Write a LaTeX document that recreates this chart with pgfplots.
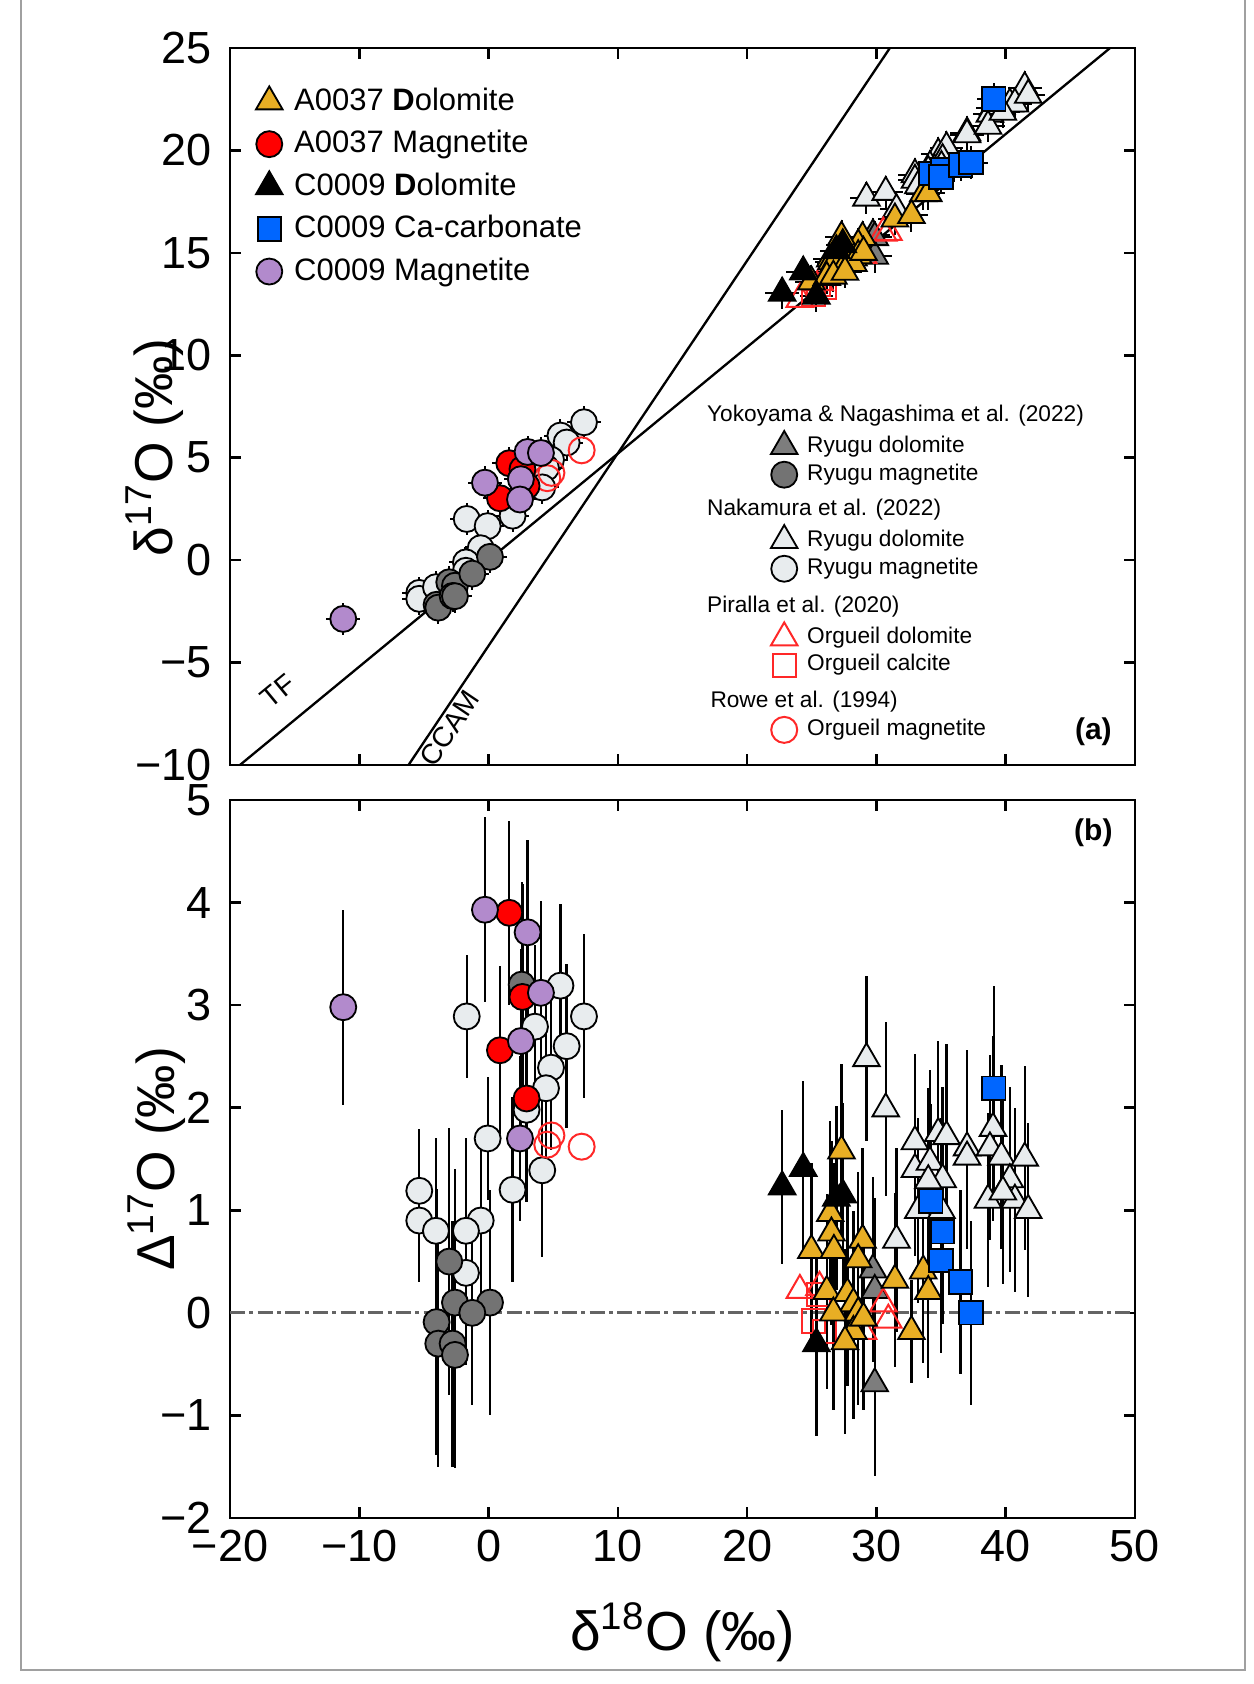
\documentclass[border=0pt]{standalone}
\usepackage{fontspec}
\setmainfont{Liberation Sans}
\usepackage{pgfplots}
\usepackage{pgfplotstable}
\pgfplotsset{compat=1.18}

\definecolor{cgold}{RGB}{232,174,36}
\definecolor{cred}{RGB}{255,0,0}
\definecolor{cblue}{RGB}{0,102,255}
\definecolor{cpurple}{RGB}{178,138,204}
\definecolor{cdgray}{RGB}{115,115,115}
\definecolor{cmgray}{RGB}{125,125,125}
\definecolor{clgray}{RGB}{232,236,238}
\definecolor{cored}{RGB}{255,40,40}
\definecolor{cdash}{RGB}{100,100,100}
\definecolor{cframe}{RGB}{160,160,160}

% A0037 dolomite
\pgfplotstableread{
d18 d17 D17 e
24.97 13.59 0.61 0.85
26.43 14.71 0.97 0.90
26.52 14.57 0.78 0.90
26.71 14.50 0.61 0.85
28.93 15.75 0.71 0.90
28.59 15.39 0.52 0.85
31.43 16.66 0.32 0.85
33.62 17.89 0.41 0.90
34.01 17.90 0.21 0.85
26.16 13.81 0.21 0.95
27.75 14.62 0.19 0.90
28.22 14.76 0.09 0.90
26.67 13.87 0.00 0.95
28.59 14.87 0.00 0.90
28.22 14.49 -0.18 0.85
27.57 14.06 -0.28 0.90
32.71 16.83 -0.18 0.50
27.30 15.78 1.58 0.85
29.00 15.03 -0.05 0.90
}\goldtab
% A0037 magnetite
\pgfplotstableread{
d18 d17 D17 e
1.60 4.73 3.90 0.90
2.62 4.44 3.08 1.10
0.88 3.02 2.56 0.82
2.94 3.62 2.09 1.00
}\redtab
% C0009 dolomite
\pgfplotstableread{
d18 d17 D17 e
22.71 13.04 1.23 0.75
24.34 14.07 1.41 0.85
26.90 15.11 1.12 0.90
27.40 15.40 1.15 0.90
25.36 12.89 -0.30 0.90
}\blacktab
% C0009 Ca-carbonate
\pgfplotstableread{
d18 d17 D17 e
39.08 22.51 2.19 1.00
34.21 18.88 1.09 0.95
35.12 19.05 0.79 0.90
34.99 18.70 0.51 0.90
36.51 19.29 0.30 0.90
37.31 19.40 0.00 0.90
}\bluetab
% C0009 magnetite
\pgfplotstableread{
d18 d17 D17 e
-11.24 -2.87 2.98 0.95
-0.28 3.78 3.93 0.90
3.02 5.28 3.71 0.90
4.05 5.23 3.12 0.90
2.50 3.95 2.65 0.90
2.43 2.96 1.70 0.80
}\purtab
% Yokoyama dolomite
\pgfplotstableread{
d18 d17 D17 e
29.73 15.88 0.42 0.90
29.87 15.75 0.22 0.90
29.87 14.84 -0.69 0.90
}\ydoltab
% Yokoyama magnetite
\pgfplotstableread{
d18 d17 D17 e
2.56 4.53 3.20 1.00
-3.04 -1.08 0.50 1.30
-2.60 -1.25 0.10 1.30
0.11 0.16 0.10 1.10
-1.26 -0.66 0.00 0.90
-4.02 -2.18 -0.09 1.30
-3.89 -2.32 -0.30 1.20
-2.78 -1.75 -0.30 1.20
-2.60 -1.76 -0.41 1.10
}\ymagtab
% Nakamura dolomite
\pgfplotstableread{
d18 d17 D17 e
29.23 17.68 2.48 0.80
30.72 17.96 1.99 0.85
32.98 18.82 1.67 0.85
34.78 19.84 1.75 0.90
35.42 20.14 1.72 0.90
32.98 18.55 1.40 0.85
34.14 19.22 1.47 0.90
35.12 19.56 1.30 0.90
34.01 18.98 1.29 0.90
33.24 18.28 1.00 0.90
35.03 19.22 1.00 0.90
37.01 20.86 1.61 0.95
37.01 20.77 1.52 0.90
39.02 22.09 1.80 0.90
38.78 21.78 1.61 0.90
39.67 22.15 1.52 0.90
41.47 23.07 1.51 0.90
40.32 22.27 1.30 0.90
38.63 21.19 1.10 0.85
40.71 22.27 1.10 0.90
41.74 22.70 1.00 0.85
39.78 21.87 1.18 0.90
31.55 17.12 0.71 0.90
}\ndoltab
% Nakamura magnetite
\pgfplotstableread{
d18 d17 D17 e
5.56 6.08 3.19 0.80
-1.69 2.01 2.89 0.60
7.38 6.73 2.89 0.80
3.59 4.66 2.79 0.80
6.04 5.74 2.60 0.80
4.83 4.90 2.39 0.80
4.44 4.50 2.19 0.90
2.94 3.51 1.98 0.90
-0.07 1.66 1.70 0.60
4.15 3.55 1.39 0.85
1.86 2.17 1.20 0.90
-0.61 0.58 0.90 0.90
-1.75 -0.11 0.80 0.90
-5.36 -1.60 1.19 0.60
-5.36 -1.89 0.90 0.60
-4.07 -1.32 0.80 0.90
-1.75 -0.52 0.39 0.90
}\nmagtab
% Orgueil dolomite (Piralla)
\pgfplotstableread{
d18 d17 D17
24.08 12.74 0.22
25.60 13.56 0.25
30.53 15.97 0.09
30.92 16.01 -0.07
28.97 14.88 -0.18
}\odoltab
% Orgueil calcite (Piralla)
\pgfplotstableread{
d18 d17 D17
25.11 12.98 -0.08
26.00 13.34 -0.18
25.50 13.44 0.18
}\ocaltab
% Orgueil magnetite (Rowe)
\pgfplotstableread{
d18 d17 D17
4.86 4.26 1.73
4.54 4.00 1.64
7.20 5.36 1.62
}\omagtab

\pgfplotsset{
  ptri/.style={only marks, mark=triangle*, mark size=4.6pt, mark options={draw=black, line width=0.55pt, fill=#1}},
  pcirc/.style={only marks, mark=*, mark size=3.9pt, mark options={draw=black, line width=0.55pt, fill=#1}},
  psq/.style={only marks, mark=square*, mark size=3.5pt, mark options={draw=black, line width=0.55pt, fill=#1}},
  otri/.style={only marks, mark=triangle, mark size=4.6pt, mark options={draw=cored, line width=0.6pt}},
  osq/.style={only marks, mark=square, mark size=3.5pt, mark options={draw=cored, line width=0.6pt}},
  ocirc/.style={only marks, mark=o, mark size=3.9pt, mark options={draw=cored, line width=0.6pt}},
  errA/.style={error bars/x dir=both, error bars/x fixed=1.3, error bars/y dir=both, error bars/y fixed=0.8, error bars/error mark=none, error bars/error bar style={line width=0.6pt, black}},
  errB/.style={error bars/y dir=both, error bars/y explicit, error bars/error mark=none, error bars/error bar style={line width=0.7pt, black}},
  myaxis/.style={scale only axis, width=271.5pt, anchor=south west, xmin=-20, xmax=50,
    axis line style={line width=0.8pt}, tick style={line width=0.8pt, black},
    major tick length=3.2pt, tick align=inside, tick pos=both,
    ticklabel style={font=\fontsize{13.5}{14}\selectfont},
    yticklabel style={xshift=-2pt},
    xtick={-20,-10,...,50},
    legend image code/.code={\draw[##1] plot coordinates {(0pt,0pt)};}},
}

\begin{document}
\begin{tikzpicture}
\useasboundingbox (0,0) rectangle (376.2pt,505.2pt);
\draw[cframe, line width=0.5pt] (6.3pt,505.2pt) -- (6.3pt,4.2pt) -- (373.5pt,4.2pt) -- (373.5pt,505.2pt);

% ---------------- panel (a) ----------------
\begin{axis}[myaxis, at={(69pt,275.7pt)}, height=215.1pt, ymin=-10, ymax=25,
  ytick={-10,-5,...,25}, yticklabels={−10,−5,0,5,10,15,20,25}, xticklabels={,,,,,,,},
  ylabel={δ\textsuperscript{17}O (‰)},
  ylabel style={font=\fontsize{16}{19}\selectfont, at={(axis description cs:-0.083,0.443)}, anchor=center},
  legend style={at={(0.028,0.9475)}, anchor=north west, draw=none, fill=none, inner sep=0pt,
    nodes={inner sep=0.5pt},
    font=\fontsize{9.3}{11}\selectfont, row sep=3.5pt, column sep=3pt},
  legend cell align=left]
\addplot[black, line width=0.7pt, forget plot] coordinates {(-19.231,-10) (48.077,25)};
\addplot[black, line width=0.7pt, forget plot] coordinates {(-6.191,-10) (31.043,25)};
\node[rotate=39.5, anchor=center, font=\fontsize{8.5}{10}\selectfont] at (axis cs:-16.3,-6.4) {TF};
\node[rotate=56, anchor=center, font=\fontsize{8.5}{10}\selectfont] at (axis cs:-3.0,-8.2) {CCAM};
\node[font=\fontsize{9}{10}\selectfont\bfseries] at (rel axis cs:0.954,0.046) {(a)};
% literature
\addplot[pcirc=clgray, errA, forget plot] table[x=d18, y=d17] {\nmagtab};
\addplot[ptri=clgray, errA, forget plot] table[x=d18, y=d17] {\ndoltab};
\addplot[pcirc=cdgray, errA, forget plot] table[x=d18, y=d17] {\ymagtab};
\addplot[ptri=cmgray, errA, forget plot] table[x=d18, y=d17] {\ydoltab};
\addplot[otri, forget plot] table[x=d18, y=d17] {\odoltab};
\addplot[osq, forget plot] table[x=d18, y=d17] {\ocaltab};
\addplot[ocirc, forget plot] table[x=d18, y=d17] {\omagtab};
% this study
\addplot[ptri=cgold, errA] table[x=d18, y=d17] {\goldtab};
\addlegendentry{A0037 \textbf{D}olomite}
\addplot[pcirc=cred, errA] table[x=d18, y=d17] {\redtab};
\addlegendentry{A0037 Magnetite}
\addplot[ptri=black, errA] table[x=d18, y=d17] {\blacktab};
\addlegendentry{C0009 \textbf{D}olomite}
\addplot[psq=cblue, errA] table[x=d18, y=d17] {\bluetab};
\addlegendentry{C0009 Ca-carbonate}
\addplot[pcirc=cpurple, errA] table[x=d18, y=d17] {\purtab};
\addlegendentry{C0009 Magnetite}
\end{axis}

% second legend for panel (a)
\begin{axis}[myaxis, at={(69pt,275.7pt)}, height=215.1pt, ymin=-10, ymax=25, hide axis,
  legend style={at={(0.597,0.505)}, anchor=north west, draw=none, fill=none, inner sep=0pt,
    nodes={inner sep=0.4pt},
    font=\fontsize{6.8}{8}\selectfont, row sep=1.0pt, column sep=2.5pt},
  legend cell align=left]
\addlegendimage{empty legend}\addlegendentry{\hspace*{-30pt}Yokoyama \& Nagashima et al. (2022)}
\addlegendimage{ptri=cmgray}\addlegendentry{Ryugu dolomite}
\addlegendimage{pcirc=cdgray}\addlegendentry{Ryugu magnetite}
\addlegendimage{empty legend}\addlegendentry{\hspace*{-30pt}\rule{0pt}{6.9pt}Nakamura et al. (2022)}
\addlegendimage{ptri=clgray}\addlegendentry{Ryugu dolomite}
\addlegendimage{pcirc=clgray}\addlegendentry{Ryugu magnetite}
\addlegendimage{empty legend}\addlegendentry{\hspace*{-30pt}\rule{0pt}{7.9pt}Piralla et al. (2020)}
\addlegendimage{otri}\addlegendentry{Orgueil dolomite}
\addlegendimage{osq}\addlegendentry{Orgueil calcite}
\addlegendimage{empty legend}\addlegendentry{\hspace*{-29pt}\rule{0pt}{7.6pt}Rowe et al. (1994)}
\addlegendimage{ocirc}\addlegendentry{Orgueil magnetite}
\end{axis}

% ---------------- panel (b) ----------------
\begin{axis}[myaxis, at={(69pt,49.8pt)}, height=215.4pt, ymin=-2, ymax=5,
  ytick={-2,-1,...,5}, yticklabels={−2,−1,0,1,2,3,4,5},
  xticklabels={−20,−10,0,10,20,30,40,50},
  ylabel={Δ\textsuperscript{17}O (‰)},
  ylabel style={font=\fontsize{16}{19}\selectfont, at={(axis description cs:-0.081,0.5)}, anchor=center},
  xlabel={δ\textsuperscript{18}O (‰)},
  xlabel style={font=\fontsize{16.5}{19}\selectfont, at={(axis description cs:0.5,-0.159)}, anchor=center}]
\addplot[cdash, line width=0.9pt, dash pattern=on 4.5pt off 1.3pt on 1.2pt off 1.3pt, forget plot] coordinates {(-20,0) (50,0)};
\node[font=\fontsize{9}{10}\selectfont\bfseries] at (rel axis cs:0.954,0.955) {(b)};
\addplot[pcirc=clgray, errB] table[x=d18, y=D17, y error=e] {\nmagtab};
\addplot[ptri=clgray, errB] table[x=d18, y=D17, y error=e] {\ndoltab};
\addplot[pcirc=cdgray, errB] table[x=d18, y=D17, y error=e] {\ymagtab};
\addplot[ptri=cmgray, errB] table[x=d18, y=D17, y error=e] {\ydoltab};
\addplot[otri] table[x=d18, y=D17] {\odoltab};
\addplot[osq] table[x=d18, y=D17] {\ocaltab};
\addplot[ocirc] table[x=d18, y=D17] {\omagtab};
\addplot[ptri=cgold, errB] table[x=d18, y=D17, y error=e] {\goldtab};
\addplot[pcirc=cred, errB] table[x=d18, y=D17, y error=e] {\redtab};
\addplot[ptri=black, errB] table[x=d18, y=D17, y error=e] {\blacktab};
\addplot[psq=cblue, errB] table[x=d18, y=D17, y error=e] {\bluetab};
\addplot[pcirc=cpurple, errB] table[x=d18, y=D17, y error=e] {\purtab};
\end{axis}
\end{tikzpicture}
\end{document}
